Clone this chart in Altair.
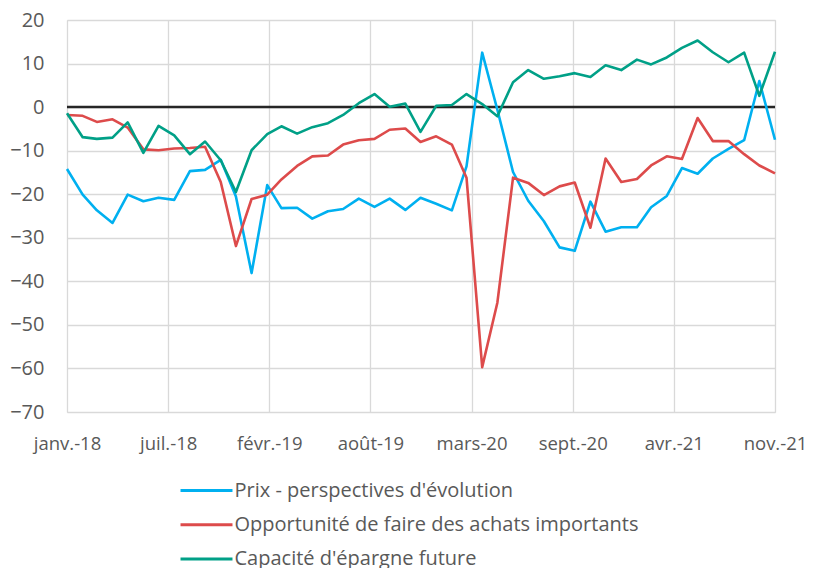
import altair as alt
import pandas as pd

months = pd.date_range("2018-01-01", "2021-11-01", freq="MS").strftime("%Y-%m-%d").tolist()

prix = [-14.2, -20.1, -23.7, -26.6, -20.1, -21.6, -20.8, -21.3, -14.7, -14.4, -12.1, -20.5,
        -38.1, -17.9, -23.2, -23.1, -25.6, -23.9, -23.4, -21.0, -22.9, -21.0, -23.6, -20.8,
        -22.2, -23.7, -13.6, 12.5, -0.6, -14.9, -21.5, -26.2, -32.2, -33.0, -21.7, -28.6,
        -27.6, -27.6, -23.0, -20.4, -14.0, -15.3, -11.8, -9.6, -7.6, 6.0, -7.5]
opportunite = [-1.8, -2.0, -3.4, -2.8, -4.7, -9.7, -9.9, -9.5, -9.4, -9.1, -17.2, -31.9,
               -21.1, -20.1, -16.6, -13.5, -11.3, -11.1, -8.6, -7.6, -7.3, -5.2, -4.9, -8.0,
               -6.7, -8.6, -16.2, -59.7, -44.9, -16.2, -17.4, -20.2, -18.2, -17.3, -27.7, -11.8,
               -17.2, -16.5, -13.4, -11.3, -11.9, -2.5, -7.8, -7.8, -10.8, -13.4, -15.2]
capacite = [-1.4, -6.9, -7.3, -7.0, -3.5, -10.5, -4.3, -6.5, -10.8, -7.9, -12.2, -19.5,
            -9.9, -6.2, -4.4, -6.1, -4.6, -3.7, -1.8, 0.9, 3.0, 0.1, 0.8, -5.7,
            0.3, 0.5, 3.0, 0.7, -2.1, 5.7, 8.5, 6.5, 7.1, 7.8, 6.9, 9.6,
            8.5, 10.9, 9.8, 11.4, 13.6, 15.3, 12.6, 10.3, 12.5, 2.6, 12.7]

series_names = ["Prix - perspectives d'évolution",
                "Opportunité de faire des achats importants",
                "Capacité d'épargne future"]
series_colors = ["#00B0F0", "#DD4B4B", "#00A087"]
month_names = ["janv.", "févr.", "mars", "avr.", "mai", "juin",
               "juil.", "août", "sept.", "oct.", "nov.", "déc."]
y_ticks = [-70, -60, -50, -40, -30, -20, -10, 0, 10, 20]

# x ticks every 200 days from the first month (Excel date axis)
start = pd.Timestamp("2018-01-01", tz="UTC")
x_ticks = [int((start + pd.Timedelta(days=200 * i)).timestamp() * 1000) for i in range(8)]

rows = []
for name, vals in zip(series_names, [prix, opportunite, capacite]):
    for m, v in zip(months, vals):
        rows.append({"date": m, "serie": name, "valeur": v})
df = pd.DataFrame(rows)

FONT = "Open Sans"
FS = 20
label_color = "#595959"
months_js = "[" + ",".join("'" + m + "'" for m in month_names) + "]"

lines = alt.Chart(df).mark_line(strokeWidth=2.6, strokeJoin="round").encode(
    x=alt.X("date:T",
            scale=alt.Scale(type="utc", domain=[x_ticks[0], x_ticks[-1]], nice=False),
            axis=alt.Axis(title=None, values=x_ticks, grid=True, gridColor="#d9d9d9",
                          gridWidth=1.3, domain=False, ticks=False, labelFontSize=18.5,
                          labelColor=label_color, labelFont=FONT, labelPadding=22,
                          labelOverlap=False, labelFlush=False,
                          labelExpr=months_js + "[utcmonth(datum.value)] + '-' + utcFormat(datum.value, '%y')")),
    y=alt.Y("valeur:Q",
            scale=alt.Scale(domain=[-70, 20], nice=False, zero=False),
            axis=alt.Axis(title=None, values=y_ticks, grid=True, gridColor="#d9d9d9",
                          gridWidth=1.3, domain=False, ticks=False, labelFontSize=FS,
                          labelColor=label_color, labelFont=FONT, labelPadding=23)),
    color=alt.Color("serie:N",
                    scale=alt.Scale(domain=series_names, range=series_colors),
                    sort=series_names,
                    legend=alt.Legend(title=None, orient="none", legendX=129, legendY=460,
                                      direction="vertical", symbolType="M-3,0H3",
                                      symbolSize=300, symbolStrokeWidth=3,
                                      symbolFillColor="transparent",
                                      labelFontSize=FS, labelFont=FONT, labelColor=label_color,
                                      labelOffset=17.5, rowPadding=13.3, padding=0,
                                      labelLimit=600)),
    order=alt.Order("date:T"),
)

zero = alt.Chart(pd.DataFrame({"y": [0]})).mark_rule(color="#262626", strokeWidth=2.5).encode(
    y=alt.Y("y:Q")
)

chart = alt.layer(zero, lines).properties(
    width=708, height=392,
    autosize=alt.AutoSizeParams(type="none"),
    padding={"left": 59, "top": 12, "right": 32, "bottom": 156},
).configure_view(stroke=None).configure(background="white")

chart.save("out.html", embed_options={"renderer": "svg", "actions": False})
